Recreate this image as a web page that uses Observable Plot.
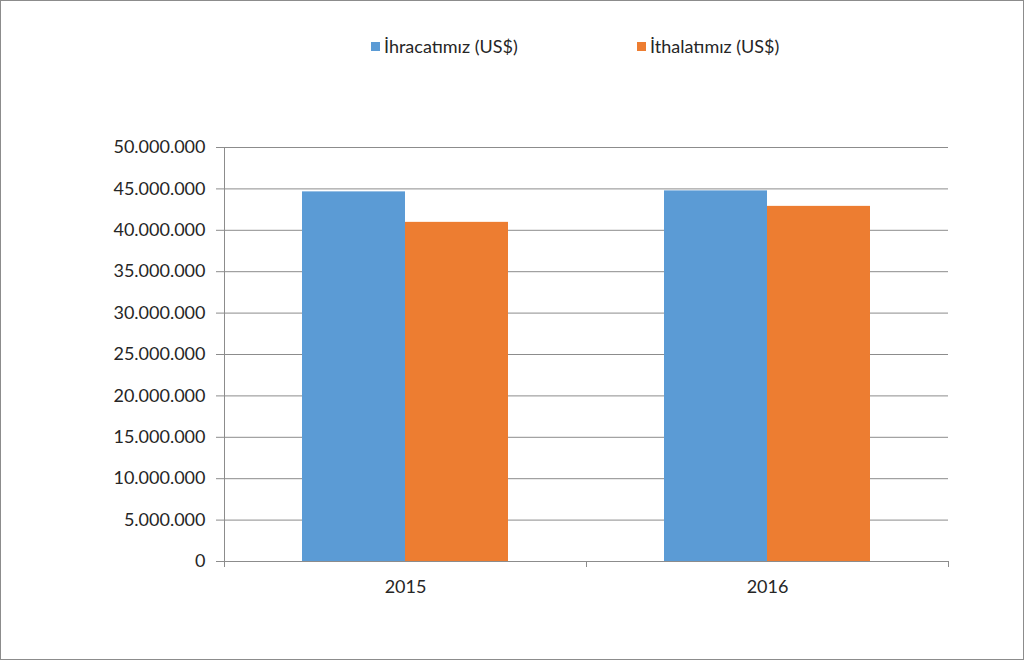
<!DOCTYPE html>
<html>
<head>
<meta charset="utf-8">
<script src="https://cdn.jsdelivr.net/npm/d3@7"></script>
<script src="https://cdn.jsdelivr.net/npm/@observablehq/plot@0.6"></script>
<style>
  html, body { margin: 0; padding: 0; background: #fff; }
  #wrap { position: relative; width: 1024px; height: 660px; box-sizing: border-box; border: 1px solid #8c8c8c; overflow: hidden; font-family: Lato, "Open Sans", sans-serif; }
  #legend { position: relative; height: 80px; }
  .item { position: absolute; top: 34px; display: flex; align-items: center; font-size: 18px; color: #262626; }
  .sw { width: 9px; height: 9px; margin-right: 4px; }
  #chart svg { display: block; }
</style>
</head>
<body>
<div id="wrap">
  <div id="legend"></div>
  <div id="chart"></div>
</div>
<script>
const years = ["2015", "2016"];
const series = ["İhracatımız (US$)", "İthalatımız (US$)"];
const exportsUSD = [44640000, 44760000];
const importsUSD = [40960000, 42890000];
const yTicks = [0, 5000000, 10000000, 15000000, 20000000, 25000000, 30000000, 35000000, 40000000, 45000000, 50000000];
const colors = ["#5B9BD5", "#ED7D31"];

const data = [];
years.forEach((y, i) => {
  data.push({year: y, series: series[0], value: exportsUSD[i]});
  data.push({year: y, series: series[1], value: importsUSD[i]});
});

const fmt = d3.formatLocale({decimal: ",", thousands: ".", grouping: [3], currency: ["", ""]}).format(",d");

// legend
const legend = document.getElementById("legend");
const legendLeft = [370, 636];
series.forEach((s, i) => {
  const it = document.createElement("div");
  it.className = "item";
  it.style.left = legendLeft[i] + "px";
  it.innerHTML = `<span class="sw" style="background:${colors[i]}"></span><span>${s}</span>`;
  legend.appendChild(it);
});

const plot = Plot.plot({
  width: 1022,
  height: 578,
  marginTop: 66,
  marginBottom: 98,
  marginLeft: 223,
  marginRight: 75,
  style: {fontFamily: "Lato, 'Open Sans', sans-serif", fontSize: "18px", color: "#262626"},
  fx: {domain: years, padding: 0, label: null},
  x: {domain: series, paddingInner: 0, paddingOuter: 0.75, axis: null},
  y: {domain: [0, 50000000], label: null},
  color: {domain: series, range: colors},
  marks: [
    Plot.ruleY(yTicks, {y: d => d, stroke: "#8c8c8c", strokeWidth: 1}),
    Plot.barY(data, {fx: "year", x: "series", y: "value", fill: "series"}),
    Plot.axisY({ticks: yTicks, tickFormat: fmt, tickSize: 8, tickPadding: 11, stroke: "#8c8c8c", label: null, fontSize: 18}),
    Plot.axisFx({anchor: "bottom", tickSize: 0, tickPadding: 19, label: null, fontSize: 18})
  ]
});

document.getElementById("chart").appendChild(plot);

// axis baseline ticks at category boundaries, derived from scales
const fxS = plot.scale("fx");
const yS = plot.scale("y");
const svg = d3.select(plot);
const y0 = yS.apply(0);
const yTop = yS.apply(50000000);
const left = fxS.apply(years[0]);
const g = svg.append("g").attr("stroke", "#8c8c8c").attr("shape-rendering", "crispEdges");
g.append("line").attr("x1", left).attr("x2", left).attr("y1", yTop).attr("y2", y0 + 6);
years.forEach(yr => {
  const xr = fxS.apply(yr) + fxS.bandwidth;
  g.append("line").attr("x1", xr).attr("x2", xr).attr("y1", y0).attr("y2", y0 + 6);
});
</script>
</body>
</html>
